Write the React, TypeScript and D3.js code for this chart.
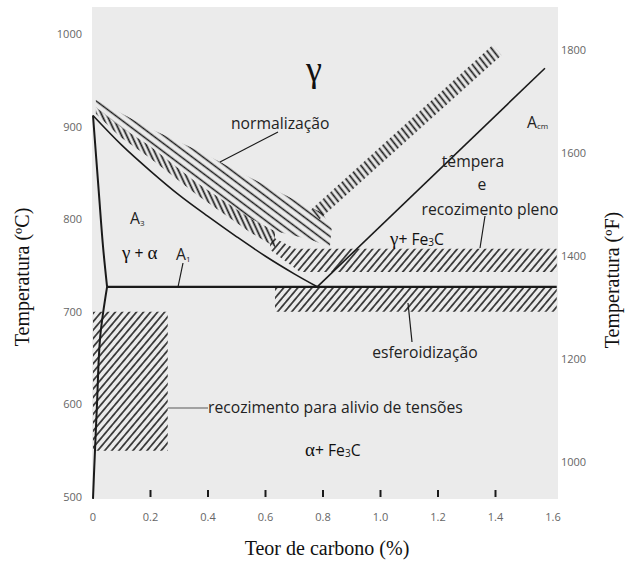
import React from 'react';
import * as d3 from 'd3';

// ---- axis data ----
const carbonTicks = [0, 0.2, 0.4, 0.6, 0.8, 1.0, 1.2, 1.4, 1.6];
const carbonTickLabels = ['0', '0.2', '0.4', '0.6', '0.8', '1.0', '1.2', '1.4', '1.6'];
const innerTicks = [0.2, 0.4, 0.6, 0.8, 1.0, 1.2, 1.4];
const celsiusTicks = [500, 600, 700, 800, 900, 1000];
const fahrenheitTicks = [1000, 1200, 1400, 1600, 1800];

// ---- phase boundaries [carbon %, °C] ----
const a3Line: [number, number][] = [[0, 912], [0.1, 880], [0.2, 852], [0.3, 826], [0.4, 803], [0.5, 781], [0.6, 760], [0.7, 741], [0.78, 727]];
const alphaUpper: [number, number][] = [[0, 912], [0.02, 830], [0.035, 770], [0.049, 727]];
const alphaLower: [number, number][] = [[0.049, 727], [0.025, 673], [0.014, 601], [0.004, 529], [0, 498]];
const acmLine: [number, number][] = [[0.78, 727], [1.572, 963]];
const a1Line: [number, number][] = [[0.049, 727], [1.613, 727]];

// ---- heat-treatment zones [carbon %, °C] ----
const stressReliefZone: [number, number][] = [[0, 700], [0.26, 700], [0.26, 550], [0, 550]];
const spheroidZone: [number, number][] = [[0.633, 727], [1.613, 727], [1.613, 700], [0.633, 700]];
const fullAnnealBand: [number, number][] = [[0.616, 782], [0.703, 768], [1.613, 768], [1.613, 743], [0.72, 743], [0.616, 767]];
const fullAnnealStrip: [number, number][] = [[0.01, 921], [0.094, 900], [0.198, 879], [0.362, 839], [0.546, 801], [0.633, 787], [0.633, 770], [0.546, 786], [0.362, 826], [0.198, 866], [0.094, 889], [0.01, 914]];
const normalizeLeft: [number, number][] = [[0.01, 929], [0.198, 898], [0.372, 873], [0.546, 845], [0.72, 818], [0.797, 807], [0.83, 790], [0.824, 770], [0.755, 778], [0.65, 786], [0.546, 801], [0.362, 839], [0.198, 879], [0.094, 900], [0.01, 921]];
const normalizeRight: [number, number][] = [[0.757, 810], [1.39, 988], [1.421, 977], [0.788, 800]];

const W = 626;
const H = 561;
const plot = { left: 92, right: 558, top: 7, bottom: 499 };

const x = d3.scaleLinear().domain([0, 1.6]).range([93, 553]);
const y = d3.scaleLinear().domain([500, 1000]).range([497, 34]);
const yF = (f: number) => y(((f - 32) * 5) / 9);

const curve = d3.line<[number, number]>().x(d => x(d[0])).y(d => y(d[1])).curve(d3.curveCatmullRom.alpha(0.5));
const straight = d3.line<[number, number]>().x(d => x(d[0])).y(d => y(d[1]));
const poly = (pts: [number, number][]) => straight(pts) + 'Z';

const SANS = "'Open Sans', 'Noto Sans', sans-serif";
const SERIF = "'Liberation Serif', 'DejaVu Serif', serif";
const INK = '#1a1a1a';
const FS = 15.7;

function Hatch({ id, spacing, angle, width }: { id: string; spacing: number; angle: number; width: number }) {
  return (
    <pattern id={id} patternUnits="userSpaceOnUse" width={spacing} height={spacing} patternTransform={`rotate(${angle})`}>
      <line x1={spacing / 2} y1={-1} x2={spacing / 2} y2={spacing + 1} stroke={INK} strokeWidth={width} />
    </pattern>
  );
}

export default function App() {
  return (
    <svg width={W} height={H} style={{ display: 'block', position: 'absolute', left: 0, top: 0 }}>
      <defs>
        <Hatch id="hFwd" spacing={5.4} angle={40} width={1.5} />
        <Hatch id="hLong" spacing={6.5} angle={-53} width={1.5} />
        <Hatch id="hStrip" spacing={4.6} angle={-25} width={1.7} />
        <Hatch id="hArm" spacing={5} angle={-38} width={1.7} />
      </defs>
      <rect x={0} y={0} width={W} height={H} fill="#ffffff" />
      <rect x={plot.left} y={plot.top} width={plot.right - plot.left} height={plot.bottom - plot.top} fill="#ebebeb" />

      {/* hatched zones */}
      <path d={poly(stressReliefZone)} fill="url(#hFwd)" />
      <path d={poly(spheroidZone)} fill="url(#hFwd)" />
      <path d={poly(fullAnnealBand)} fill="url(#hFwd)" />
      <path d={poly(fullAnnealStrip)} fill="url(#hStrip)" />
      <path d={poly(normalizeLeft)} fill="url(#hLong)" />
      <path d={poly(normalizeRight)} fill="url(#hArm)" />

      {/* phase lines */}
      <path d={curve(a3Line) || ''} fill="none" stroke={INK} strokeWidth={1.6} />
      <path d={curve(alphaUpper) || ''} fill="none" stroke={INK} strokeWidth={2} />
      <path d={curve(alphaLower) || ''} fill="none" stroke={INK} strokeWidth={2} />
      <path d={straight(acmLine) || ''} fill="none" stroke={INK} strokeWidth={1.6} />
      <path d={straight(a1Line) || ''} fill="none" stroke={INK} strokeWidth={2.2} />

      {/* inner ticks */}
      {innerTicks.map(t => (
        <line key={t} x1={x(t)} x2={x(t)} y1={490} y2={497} stroke={INK} strokeWidth={2} />
      ))}

      {/* tick labels */}
      {carbonTicks.map((t, i) => (
        <text key={t} x={x(t)} y={521} textAnchor="middle" fontFamily={SANS} fontSize={11} fill="#666">{carbonTickLabels[i]}</text>
      ))}
      {celsiusTicks.map(t => (
        <text key={t} x={82} y={y(t) + 4} textAnchor="end" fontFamily={SANS} fontSize={11} fill="#666">{t}</text>
      ))}
      {fahrenheitTicks.map(t => (
        <text key={t} x={561} y={yF(t) + 4} textAnchor="start" fontFamily={SANS} fontSize={11} fill="#666">{t}</text>
      ))}

      {/* axis titles */}
      <text x={327} y={555} textAnchor="middle" fontFamily={SERIF} fontSize={20} fill="#111">Teor de carbono (%)</text>
      <text transform="translate(29,277) rotate(-90)" textAnchor="middle" fontFamily={SERIF} fontSize={20} fill="#111">Temperatura (ºC)</text>
      <text transform="translate(619,280) rotate(-90)" textAnchor="middle" fontFamily={SERIF} fontSize={20} fill="#111">Temperatura (ºF)</text>

      {/* region labels */}
      <text x={314} y={81} textAnchor="middle" fontFamily={SERIF} fontSize={36} fill="#111">γ</text>
      <text x={231} y={129} fontFamily={SANS} fontSize={FS} fill="#222">normalização</text>
      <line x1={278} y1={132} x2={220} y2={162} stroke={INK} strokeWidth={1.2} />

      <text x={130} y={224} fontFamily={SANS} fontSize={FS} fill="#222">A<tspan fontSize={8} dy={2}>3</tspan></text>
      <text x={122} y={259} fontFamily={SERIF} fontSize={19} fill="#111">γ<tspan fontFamily={SANS} fontSize={FS}> + </tspan>α</text>
      <text x={176} y={260} fontFamily={SANS} fontSize={FS} fill="#222">A<tspan fontSize={8} dy={2}>1</tspan></text>
      <line x1={183} y1={263} x2={178} y2={287} stroke={INK} strokeWidth={1.2} />

      <text x={527} y={128} fontFamily={SANS} fontSize={FS} fill="#222">A<tspan fontSize={8} dy={1}>cm</tspan></text>
      <text x={473} y={167} textAnchor="middle" fontFamily={SANS} fontSize={FS} fill="#222">têmpera</text>
      <text x={482} y={190} textAnchor="middle" fontFamily={SANS} fontSize={FS} fill="#222">e</text>
      <text x={490} y={215} textAnchor="middle" fontFamily={SANS} fontSize={FS} fill="#222">recozimento pleno</text>
      <line x1={485} y1={216} x2={480} y2={248} stroke={INK} strokeWidth={1.2} />
      <text x={390} y={245} fontFamily={SERIF} fontSize={19} fill="#111">γ<tspan fontFamily={SANS} fontSize={FS}>+ Fe</tspan><tspan fontFamily={SANS} fontSize={10} dy={1}>3</tspan><tspan fontFamily={SANS} fontSize={FS} dy={-1}>C</tspan></text>

      <line x1={408} y1={303} x2={412} y2={342} stroke={INK} strokeWidth={1.2} />
      <text x={425} y={358} textAnchor="middle" fontFamily={SANS} fontSize={FS} fill="#222">esferoidização</text>

      <line x1={168} y1={408} x2={208} y2={408} stroke="#888" strokeWidth={1.5} />
      <text x={208} y={413} fontFamily={SANS} fontSize={FS} fill="#222">recozimento para alivio de tensões</text>
      <text x={305} y={456} fontFamily={SERIF} fontSize={19} fill="#111">α<tspan fontFamily={SANS} fontSize={FS}>+ Fe</tspan><tspan fontFamily={SANS} fontSize={10} dy={1}>3</tspan><tspan fontFamily={SANS} fontSize={FS} dy={-1}>C</tspan></text>
    </svg>
  );
}
